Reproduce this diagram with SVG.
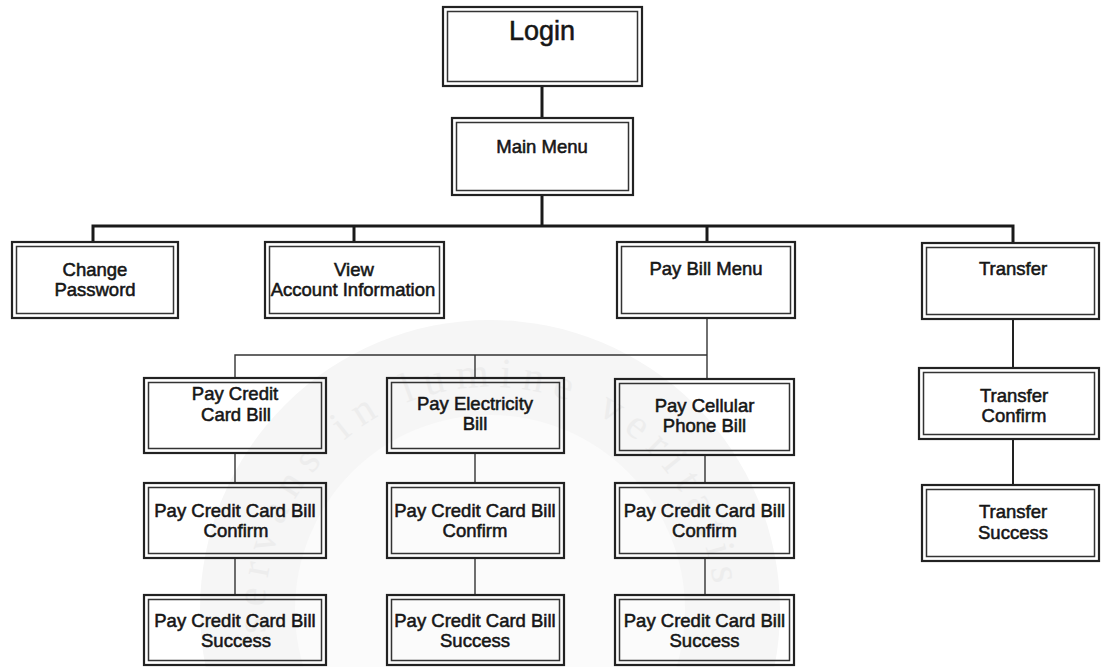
<svg xmlns="http://www.w3.org/2000/svg" width="1101" height="667" viewBox="0 0 1101 667">
  <style>
    .o { fill: none; stroke: #222; stroke-width: 2.2; }
    .i { fill: none; stroke: #333; stroke-width: 1.5; }
    .t { font-family: "Liberation Sans", Arial, sans-serif; font-size: 18.5px; fill: #161616; stroke: #161616; stroke-width: 0.55; text-anchor: middle; }
    .thick { stroke: #1a1a1a; stroke-width: 3; fill: none; }
    .med { stroke: #222; stroke-width: 2; fill: none; }
    .thin { stroke: #333; stroke-width: 1.4; fill: none; }
    .wm { font-family: "Liberation Serif", "Times New Roman", serif; font-size: 42px; fill: #ededed; }
  </style>
  <defs>
    <path id="wmArc" d="M 266 633 A 225 225 0 1 1 714 633"/>
  </defs>
  <rect x="0" y="0" width="1101" height="667" fill="#ffffff"/>

  <g id="watermark">
    <circle cx="490" cy="610" r="290" fill="#f6f6f6"/>
    <circle cx="490" cy="610" r="195" fill="#fbfbfb"/>
    <text class="wm"><textPath href="#wmArc" textLength="700">servans in lumine veritatis</textPath></text>
  </g>

  <g id="connectors">
    <line class="thick" x1="542" y1="86" x2="542" y2="118"/>
    <line class="thick" x1="542" y1="195" x2="542" y2="226"/>
    <polyline class="thick" points="93,242 93,226 1013,226 1013,243"/>
    <line class="thick" x1="354" y1="226" x2="354" y2="242"/>
    <line class="thick" x1="707" y1="226" x2="707" y2="242"/>

    <line class="thin" x1="707" y1="318" x2="707" y2="378"/>
    <polyline class="thin" points="235,378 235,355 707,355"/>
    <line class="thin" x1="475" y1="355" x2="475" y2="378"/>

    <line class="thin" x1="235" y1="453" x2="235" y2="483"/>
    <line class="thin" x1="475" y1="453" x2="475" y2="483"/>
    <line class="thin" x1="705" y1="455" x2="705" y2="483"/>
    <line class="thin" x1="235" y1="558" x2="235" y2="595"/>
    <line class="thin" x1="475" y1="558" x2="475" y2="595"/>
    <line class="thin" x1="705" y1="558" x2="705" y2="595"/>

    <line class="med" x1="1013" y1="319" x2="1013" y2="368"/>
    <line class="med" x1="1013" y1="439" x2="1013" y2="485"/>
  </g>

  <g id="login">
    <rect class="o" x="443" y="7" width="199" height="79"/>
    <rect class="i" x="447.5" y="11.5" width="190" height="70"/>
    <text class="t" x="542" y="39.5" style="font-size:27px">Login</text>
  </g>

  <g id="main-menu">
    <rect class="o" x="452" y="118" width="181" height="77"/>
    <rect class="i" x="456.5" y="122.5" width="172" height="68"/>
    <text class="t" x="542" y="152.5">Main Menu</text>
  </g>

  <g id="change-password">
    <rect class="o" x="12" y="242" width="166" height="76"/>
    <rect class="i" x="16.5" y="246.5" width="157" height="67"/>
    <text class="t" x="95" y="276">Change</text>
    <text class="t" x="95" y="296">Password</text>
  </g>

  <g id="view-account">
    <rect class="o" x="265" y="242" width="179" height="76"/>
    <rect class="i" x="269.5" y="246.5" width="170" height="67"/>
    <text class="t" x="354" y="276">View</text>
    <text class="t" x="353" y="296">Account Information</text>
  </g>

  <g id="pay-bill-menu">
    <rect class="o" x="617" y="242" width="178" height="76"/>
    <rect class="i" x="621.5" y="246.5" width="169" height="67"/>
    <text class="t" x="706" y="275">Pay Bill Menu</text>
  </g>

  <g id="transfer">
    <rect class="o" x="922" y="243" width="177" height="76"/>
    <rect class="i" x="926.5" y="247.5" width="168" height="67"/>
    <text class="t" x="1013" y="275">Transfer</text>
  </g>

  <g id="pay-credit-card-bill">
    <rect class="o" x="144" y="378" width="182" height="75"/>
    <rect class="i" x="148.5" y="382.5" width="173" height="66"/>
    <text class="t" x="235" y="400">Pay Credit</text>
    <text class="t" x="236" y="420.5">Card Bill</text>
  </g>

  <g id="pay-electricity-bill">
    <rect class="o" x="387" y="378" width="177" height="75"/>
    <rect class="i" x="391.5" y="382.5" width="168" height="66"/>
    <text class="t" x="475" y="410">Pay Electricity</text>
    <text class="t" x="475" y="430">Bill</text>
  </g>

  <g id="pay-cellular-phone-bill">
    <rect class="o" x="615" y="379" width="179" height="76"/>
    <rect class="i" x="619.5" y="383.5" width="170" height="67"/>
    <text class="t" x="704.5" y="411.5">Pay Cellular</text>
    <text class="t" x="704.5" y="432">Phone Bill</text>
  </g>

  <g id="credit-confirm">
    <rect class="o" x="144" y="483" width="182" height="75"/>
    <rect class="i" x="148.5" y="487.5" width="173" height="66"/>
    <text class="t" x="235" y="516.5">Pay Credit Card Bill</text>
    <text class="t" x="236" y="536.5">Confirm</text>
  </g>

  <g id="electricity-confirm">
    <rect class="o" x="387" y="483" width="177" height="75"/>
    <rect class="i" x="391.5" y="487.5" width="168" height="66"/>
    <text class="t" x="475" y="516.5">Pay Credit Card Bill</text>
    <text class="t" x="475" y="536.5">Confirm</text>
  </g>

  <g id="cellular-confirm">
    <rect class="o" x="615" y="483" width="179" height="75"/>
    <rect class="i" x="619.5" y="487.5" width="170" height="66"/>
    <text class="t" x="704.5" y="516.5">Pay Credit Card Bill</text>
    <text class="t" x="704.5" y="536.5">Confirm</text>
  </g>

  <g id="credit-success">
    <rect class="o" x="144" y="595" width="182" height="70"/>
    <rect class="i" x="148.5" y="599.5" width="173" height="61"/>
    <text class="t" x="235" y="627">Pay Credit Card Bill</text>
    <text class="t" x="236" y="647">Success</text>
  </g>

  <g id="electricity-success">
    <rect class="o" x="387" y="595" width="177" height="70"/>
    <rect class="i" x="391.5" y="599.5" width="168" height="61"/>
    <text class="t" x="475" y="627">Pay Credit Card Bill</text>
    <text class="t" x="475" y="647">Success</text>
  </g>

  <g id="cellular-success">
    <rect class="o" x="615" y="595" width="179" height="70"/>
    <rect class="i" x="619.5" y="599.5" width="170" height="61"/>
    <text class="t" x="704.5" y="627">Pay Credit Card Bill</text>
    <text class="t" x="704.5" y="647">Success</text>
  </g>

  <g id="transfer-confirm">
    <rect class="o" x="919" y="368" width="180" height="71"/>
    <rect class="i" x="923.5" y="372.5" width="171" height="62"/>
    <text class="t" x="1014" y="401.5">Transfer</text>
    <text class="t" x="1014" y="421.5">Confirm</text>
  </g>

  <g id="transfer-success">
    <rect class="o" x="922" y="485" width="177" height="76"/>
    <rect class="i" x="926.5" y="489.5" width="168" height="67"/>
    <text class="t" x="1013" y="518">Transfer</text>
    <text class="t" x="1013" y="539">Success</text>
  </g>
</svg>
